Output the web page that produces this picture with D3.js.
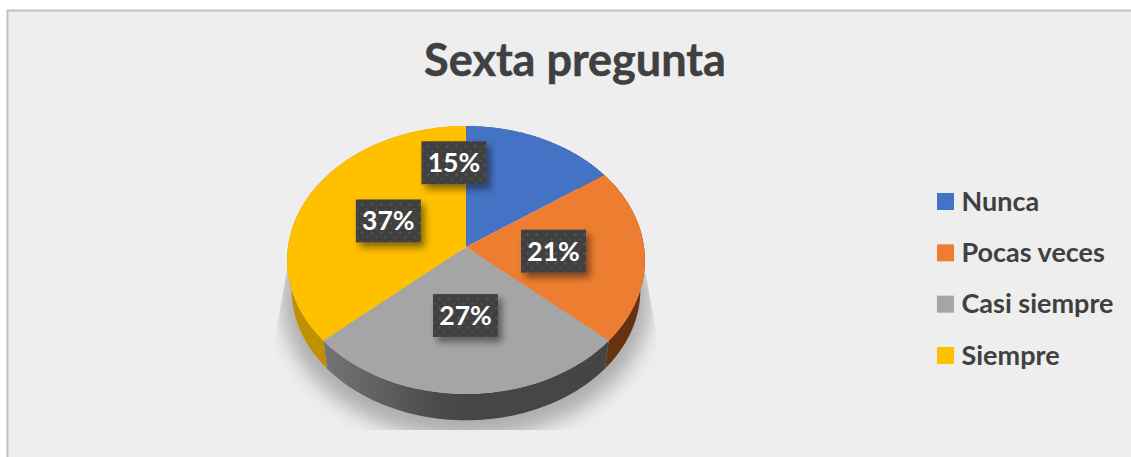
<!DOCTYPE html>
<html><head><meta charset="utf-8">
<script src="https://cdnjs.cloudflare.com/ajax/libs/d3/7.8.5/d3.min.js"></script>
<style>html,body{margin:0;padding:0;background:#fff}svg{display:block}text{font-family:Lato,"Open Sans",sans-serif;font-weight:700}</style>
</head><body><svg id="c" width="1131" height="457"></svg>
<script>
const chartTitle = "Sexta pregunta";
const categories = ["Nunca", "Pocas veces", "Casi siempre", "Siempre"];
const values = [15.3, 21.2, 27, 36.5];
const labels = ["15%", "21%", "27%", "37%"];
const colors = ["#4472c4", "#ed7d31", "#a5a5a5", "#ffc000"];
const sideColors = ["#2f4f8a", "#663210", "url(#sideGray)", "#bf9000"];
const labelNudge = [[-60.5,-15],[-23,-0.5],[-0.5,-19],[20.5,7]];

const W = 1131, H = 457;
const svg = d3.select("#c");
const defs = svg.append("defs");

// perspective view of the pie disc
const cx = 466, cy = 247, A = 178, B = 132.7, K = 0.097;
const depth = 30, shrink = 0.975;
const project = (a, r = 1) => {
  const u = Math.sin(a) * r, v = Math.cos(a) * r, w = 1 + K * v;
  return [A * u / w, -B * v / w];
};
const upper = (a, r = 1) => { const p = project(a, r); return [cx + p[0], cy + p[1]]; };
const lower = (a) => { const p = project(a); return [cx + p[0] * shrink, cy + depth + p[1] * shrink]; };
const line = d3.line();
const arcAngles = (s, e) => d3.range(0, 61).map(i => s + (e - s) * i / 60);

// filters and gradients
const f1 = defs.append("filter").attr("id","blurShadow").attr("x","-20%").attr("y","-20%").attr("width","140%").attr("height","140%");
f1.append("feGaussianBlur").attr("stdDeviation", 10);
const f2 = defs.append("filter").attr("id","boxShadow").attr("x","-30%").attr("y","-30%").attr("width","170%").attr("height","170%");
f2.append("feDropShadow").attr("dx",4).attr("dy",5).attr("stdDeviation",3.5).attr("flood-color","#000").attr("flood-opacity",0.45);
const g1 = defs.append("linearGradient").attr("id","sideGray").attr("gradientUnits","userSpaceOnUse")
  .attr("x1", cx-143).attr("x2", cx+143).attr("y1",0).attr("y2",0);
[[0,"#757575"],[0.4,"#4a4a4a"],[0.5,"#464646"],[1,"#454545"]].forEach(d=>g1.append("stop").attr("offset",d[0]).attr("stop-color",d[1]));
const pat = defs.append("pattern").attr("id","dots").attr("width",9.5).attr("height",9.5).attr("patternUnits","userSpaceOnUse");
pat.append("rect").attr("width",9.5).attr("height",9.5).attr("fill","#404040");
pat.append("circle").attr("cx",2.5).attr("cy",2.5).attr("r",1.3).attr("fill","#555");
pat.append("circle").attr("cx",7.2).attr("cy",7.2).attr("r",1.3).attr("fill","#4e4e4e");

// chart area
svg.append("rect").attr("x",7.5).attr("y",10.5).attr("width",W).attr("height",H).attr("fill","#eeeeee").attr("stroke","#bfbfbf").attr("stroke-width",2);

svg.append("text").attr("x",575).attr("y",76).attr("text-anchor","middle").attr("font-size",45).attr("fill","#404040").attr("stroke","#404040").attr("stroke-width",0.5).text(chartTitle);

// pie
const pie = d3.pie().sort(null).value(d=>d);
const arcs = pie(values);

// floor shadow, clipped to a fan that widens downward
const clip = defs.append("clipPath").attr("id","shadowClip");
const fullRim = arcAngles(0, 2*Math.PI);
clip.append("path").attr("d", line([[cx-176,cy+6],[cx+176,cy+6],[cx+190,cy+85],[cx+190,cy+183],[cx-190,cy+183],[cx-190,cy+85]])+"Z");
const shadowScale = 1.03;
svg.append("g").attr("clip-path","url(#shadowClip)")
  .append("path")
  .attr("d", line(fullRim.map(a=>{const p=project(a);return [cx+p[0]*shadowScale, cy+depth+10+p[1]*shadowScale];}))+"Z")
  .attr("fill","#adadad").attr("filter","url(#blurShadow)");

// side walls
svg.append("g").selectAll("path").data(arcs).join("path")
  .attr("d", d=>{
    const aa = arcAngles(d.startAngle, d.endAngle);
    return line(aa.map(a=>upper(a)).concat(aa.slice().reverse().map(a=>lower(a))))+"Z";
  })
  .attr("fill",(d,i)=>sideColors[i]);

// top face
svg.append("g").selectAll("path").data(arcs).join("path")
  .attr("d", d=>line([[cx,cy]].concat(arcAngles(d.startAngle,d.endAngle).map(a=>upper(a))))+"Z")
  .attr("fill",(d,i)=>colors[i]);

// data labels
const boxW = 65, boxH = 43;
const lab = svg.append("g").selectAll("g").data(arcs).join("g")
  .attr("transform",(d,i)=>{
    const p = upper((d.startAngle+d.endAngle)/2, 0.62);
    return `translate(${p[0]+labelNudge[i][0]},${p[1]+labelNudge[i][1]})`;
  });
lab.append("rect").attr("x",-boxW/2).attr("y",-boxH/2).attr("width",boxW).attr("height",boxH)
  .attr("fill","url(#dots)").attr("filter","url(#boxShadow)");
lab.append("text").attr("text-anchor","middle").attr("y",9.5).attr("font-size",26.5).attr("fill","#fff").text((d,i)=>labels[i]);

// legend
const legendY = d3.scalePoint().domain(categories).range([201.5,355.5]);
const leg = svg.append("g").selectAll("g").data(categories).join("g")
  .attr("transform",d=>`translate(937,${legendY(d)})`);
leg.append("rect").attr("y",-8.5).attr("width",17).attr("height",17).attr("fill",(d,i)=>colors[i]);
leg.append("text").attr("x",24.5).attr("y",9).attr("font-size",27).attr("fill","#404040").text(d=>d);
</script></body></html>
